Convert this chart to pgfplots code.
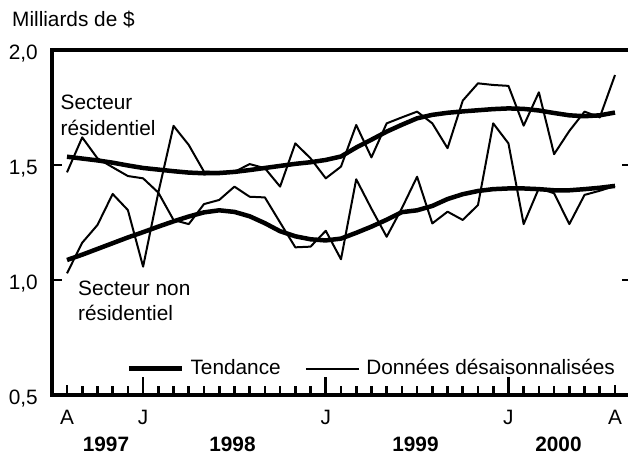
\documentclass[border=0pt]{standalone}
\usepackage{fontspec}
\setmainfont{Liberation Sans}
\usepackage{pgfplots}
\usepackage{pgfplotstable}
\pgfplotsset{compat=1.18}
\newcommand\myfont{\fontsize{20.8}{25}\selectfont}
\pgfplotstableread{
i  rr     rt     nr     nt
0  1.468  1.536  1.029  1.087
1  1.620  1.528  1.162  1.110
2  1.529  1.520  1.239  1.135
3  1.490  1.510  1.374  1.160
4  1.452  1.498  1.304  1.185
5  1.442  1.487  1.058  1.208
6  1.380  1.480  1.380  1.232
7  1.670  1.473  1.261  1.255
8  1.587  1.467  1.243  1.276
9  1.471  1.464  1.330  1.294
10 1.470  1.465  1.348  1.303
11 1.470  1.470  1.406  1.296
12 1.504  1.478  1.362  1.277
13 1.486  1.487  1.359  1.247
14 1.406  1.496  1.250  1.212
15 1.594  1.505  1.142  1.190
16 1.529  1.512  1.145  1.177
17 1.442  1.522  1.214  1.172
18 1.493  1.537  1.090  1.180
19 1.674  1.576  1.438  1.205
20 1.533  1.610  1.310  1.232
21 1.681  1.645  1.188  1.262
22 1.707  1.675  1.312  1.295
23 1.732  1.703  1.449  1.303
24 1.681  1.718  1.246  1.322
25 1.573  1.727  1.297  1.352
26 1.780  1.733  1.261  1.373
27 1.855  1.738  1.326  1.387
28 1.848  1.743  1.681  1.395
29 1.844  1.746  1.594  1.398
30 1.671  1.744  1.243  1.398
31 1.816  1.737  1.399  1.395
32 1.547  1.726  1.377  1.390
33 1.648  1.716  1.243  1.390
34 1.732  1.712  1.370  1.395
35 1.707  1.716  1.388  1.401
36 1.891  1.728  1.409  1.409
}\data
\begin{document}
\myfont
\begin{tikzpicture}
\begin{axis}[name=ax, scale only axis, width=576pt, height=345pt,
  xmin=-0.985, xmax=36.855, ymin=0.5, ymax=2.0,
  axis line style={draw=none},
  xtick pos=bottom, ytick pos=left, tick align=inside,
  xtick={0,36}, xticklabels={A,A},
  extra x ticks={5,17,29}, extra x tick labels={J,J,J},
  extra x tick style={major tick length=17.5pt},
  minor xtick={0,...,36},
  major tick length=10pt, minor tick length=9pt,
  tick style={black, line width=2.7pt},
  ytick={0.5,1,1.5,2},
  tick label style={font=\myfont},
  /pgf/number format/.cd, use comma, fixed, fixed zerofill, precision=1, assume math mode=true, /pgfplots/.cd,
  yticklabel style={anchor=base east, inner sep=0pt, xshift=-14pt, yshift=-9.5pt},
  xticklabel style={anchor=base, inner sep=0pt, yshift=-30pt},
  legend columns=2,
  legend style={draw=none, fill=none, inner sep=0pt, font=\myfont,
    at={(axis cs:3.9,0.615)}, anchor=west,
    nodes={inner sep=0pt},
    /tikz/every odd column/.append style={column sep=6.5pt},
    /tikz/every even column/.append style={column sep=24pt}},
  legend image code/.code={\draw[#1] (0pt,0pt) -- (53pt,0pt);},
]
\addplot[black, line width=4.5pt, line join=round] table[x=i, y=rt] {\data};
\addlegendentry{Tendance}
\addplot[black, line width=2pt, line join=round] table[x=i, y=rr] {\data};
\addlegendentry{Données désaisonnalisées}
\addplot[black, line width=4.5pt, line join=round, forget plot] table[x=i, y=nt] {\data};
\addplot[black, line width=2pt, line join=round, forget plot] table[x=i, y=nr] {\data};
\end{axis}
\draw[line width=3.5pt, line join=miter] (ax.north east) -- (ax.north west) -- (ax.south west) -- (ax.south east);
\draw[line width=2.7pt] ([yshift=115pt]ax.south east) -- ++(-6pt,0);
\draw[line width=2.7pt] ([yshift=230pt]ax.south east) -- ++(-6pt,0);
\node[anchor=base west, inner sep=0pt] at ([xshift=-40pt,yshift=23.3pt]ax.north west) {Milliards de \$};
\node[anchor=base west, inner sep=0pt] at ([xshift=8.5pt,yshift=-60pt]ax.north west) {Secteur};
\node[anchor=base west, inner sep=0pt] at ([xshift=8.5pt,yshift=-86pt]ax.north west) {résidentiel};
\node[anchor=base west, inner sep=0pt] at ([xshift=26pt,yshift=-246pt]ax.north west) {Secteur non};
\node[anchor=base west, inner sep=0pt] at ([xshift=26pt,yshift=-271pt]ax.north west) {résidentiel};
\node[anchor=base, inner sep=0pt, font=\myfont\bfseries] at ([xshift=54pt,yshift=-56.7pt]ax.south west) {1997};
\node[anchor=base, inner sep=0pt, font=\myfont\bfseries] at ([xshift=180.5pt,yshift=-56.7pt]ax.south west) {1998};
\node[anchor=base, inner sep=0pt, font=\myfont\bfseries] at ([xshift=363.5pt,yshift=-56.7pt]ax.south west) {1999};
\node[anchor=base, inner sep=0pt, font=\myfont\bfseries] at ([xshift=506.5pt,yshift=-56.7pt]ax.south west) {2000};
\pgfresetboundingbox
\path ([xshift=-52pt,yshift=-72pt]ax.south west) rectangle ([xshift=1pt,yshift=50pt]ax.north east);
\end{tikzpicture}
\end{document}
